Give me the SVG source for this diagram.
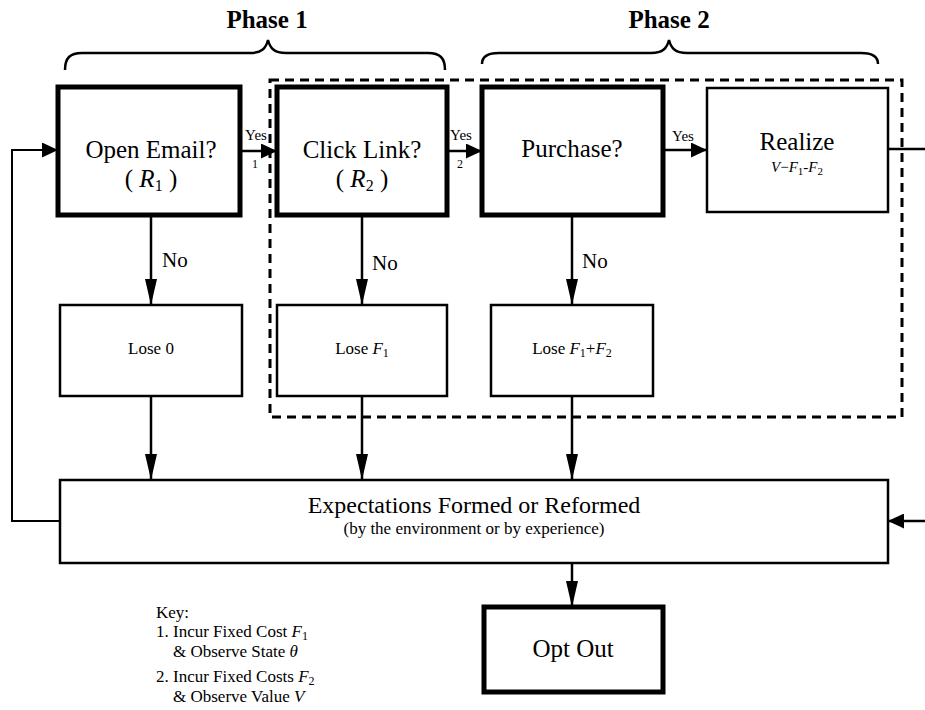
<svg xmlns="http://www.w3.org/2000/svg" width="925" height="710" viewBox="0 0 925 710">
<style>
text{font-family:"Liberation Serif","Times New Roman",serif;fill:#000}
.thick{fill:#fff;stroke:#000;stroke-width:5}
.thin{fill:#fff;stroke:#000;stroke-width:2.5}
.big{font-size:25px;text-anchor:middle}
.mid{font-size:17px;text-anchor:middle}
.lbl{font-size:15px;text-anchor:middle}
.num{font-size:12px;text-anchor:middle}
.no{font-size:21px}
.key{font-size:17px}
.ph{font-size:25px;font-weight:bold;text-anchor:middle}
.it{font-style:italic}
.ln{fill:none;stroke:#000;stroke-width:2.5}
.v{marker-end:url(#av)}
.h{marker-end:url(#ah)}
</style>
<defs>
<marker id="av" viewBox="0 0 26 12" refX="26" refY="6" markerWidth="26" markerHeight="12" markerUnits="userSpaceOnUse" orient="auto"><path d="M0,0 L26,6 L0,12 Z" fill="#000"/></marker>
<marker id="ah" viewBox="0 0 16 15" refX="16" refY="7.5" markerWidth="16" markerHeight="15" markerUnits="userSpaceOnUse" orient="auto"><path d="M0,0 L16,7.5 L0,15 Z" fill="#000"/></marker>
</defs>

<g id="phase1">
<path d="M65,70 C65,58 70,53 82,53 L250,53 C262,53 266,48 268,40 C270,48 274,53 286,53 L428,53 C440,53 445,58 445,70" fill="none" stroke="#000" stroke-width="2.5"/>
<text class="ph" x="267" y="28">Phase 1</text>
</g>
<g id="phase2">
<path d="M482,64 C482,57 487,53 499,53 L651,53 C663,53 667,48 669,40 C671,48 675,53 687,53 L861,53 C873,53 878,57 878,64" fill="none" stroke="#000" stroke-width="2.5"/>
<text class="ph" x="669" y="28">Phase 2</text>
</g>
<g id="phase2-region">
<rect x="270" y="80" width="632" height="337" fill="none" stroke="#000" stroke-width="3" stroke-dasharray="9 6"/>
</g>

<g id="connectors">
<path class="ln h" d="M240,151 H277"/>
<path class="ln h" d="M447,151 H482"/>
<path class="ln h" d="M663,150 H707"/>
<path class="ln" d="M888,149 H925"/>
<path class="ln v" d="M151,215 V305"/>
<path class="ln v" d="M362,215 V305"/>
<path class="ln v" d="M572,215 V305"/>
<path class="ln v" d="M151,396 V480"/>
<path class="ln v" d="M362,396 V480"/>
<path class="ln v" d="M572,396 V480"/>
<path class="ln v" d="M572,563 V607"/>
<path class="ln h" d="M925,521 H888"/>
<path class="ln h" d="M60,521 H12 V150 H58" style="stroke-width:2"/>
<text class="lbl" x="256" y="140">Yes</text>
<text class="num" x="255" y="168">1</text>
<text class="lbl" x="461" y="140">Yes</text>
<text class="num" x="460" y="168">2</text>
<text class="lbl" x="683" y="141">Yes</text>
<text class="no" x="162" y="267">No</text>
<text class="no" x="372" y="270">No</text>
<text class="no" x="582" y="268">No</text>
</g>

<g id="open-email">
<rect class="thick" x="58" y="87" width="182" height="128"/>
<text class="big" x="151" y="158">Open Email?</text>
<text class="big" x="151" y="187">( <tspan class="it">R</tspan><tspan font-size="16" dy="4">1</tspan><tspan dy="-4"> )</tspan></text>
</g>
<g id="click-link">
<rect class="thick" x="277" y="87" width="170" height="128"/>
<text class="big" x="362" y="158">Click Link?</text>
<text class="big" x="362" y="187">( <tspan class="it">R</tspan><tspan font-size="16" dy="4">2</tspan><tspan dy="-4"> )</tspan></text>
</g>
<g id="purchase">
<rect class="thick" x="482" y="87" width="181" height="128"/>
<text class="big" x="572" y="157">Purchase?</text>
</g>
<g id="realize">
<rect class="thin" x="707" y="88" width="181" height="124"/>
<text class="big" x="797" y="150">Realize</text>
<text class="lbl" x="797" y="172"><tspan class="it">V</tspan>−<tspan class="it">F</tspan><tspan font-size="11" dy="3">1</tspan><tspan dy="-3">-</tspan><tspan class="it">F</tspan><tspan font-size="11" dy="3">2</tspan></text>
</g>
<g id="lose0">
<rect class="thin" x="60" y="305" width="182" height="91"/>
<text class="mid" x="151" y="354">Lose 0</text>
</g>
<g id="lose-f1">
<rect class="thin" x="277" y="305" width="170" height="91"/>
<text class="mid" x="362" y="354">Lose <tspan class="it">F</tspan><tspan font-size="12" dy="3">1</tspan></text>
</g>
<g id="lose-f1f2">
<rect class="thin" x="491" y="305" width="162" height="91"/>
<text class="mid" x="572" y="354">Lose <tspan class="it">F</tspan><tspan font-size="12" dy="3">1</tspan><tspan dy="-3">+</tspan><tspan class="it">F</tspan><tspan font-size="12" dy="3">2</tspan></text>
</g>
<g id="expectations">
<rect class="thin" x="60" y="480" width="828" height="83"/>
<text x="474" y="513" style="font-size:24px;text-anchor:middle">Expectations Formed or Reformed</text>
<text class="mid" x="474" y="534">(by the environment or by experience)</text>
</g>
<g id="opt-out">
<rect class="thick" x="484" y="607" width="179" height="85"/>
<text class="big" x="573" y="657">Opt Out</text>
</g>
<g id="key">
<text class="key" x="156" y="618">Key:</text>
<text class="key" x="156" y="637">1. Incur Fixed Cost <tspan class="it">F</tspan><tspan font-size="12" dy="3">1</tspan></text>
<text class="key" x="173" y="657">&amp; Observe State  <tspan class="it">θ</tspan></text>
<text class="key" x="156" y="682">2. Incur Fixed Costs <tspan class="it">F</tspan><tspan font-size="12" dy="3">2</tspan></text>
<text class="key" x="173" y="702">&amp; Observe Value <tspan class="it">V</tspan></text>
</g>
</svg>
